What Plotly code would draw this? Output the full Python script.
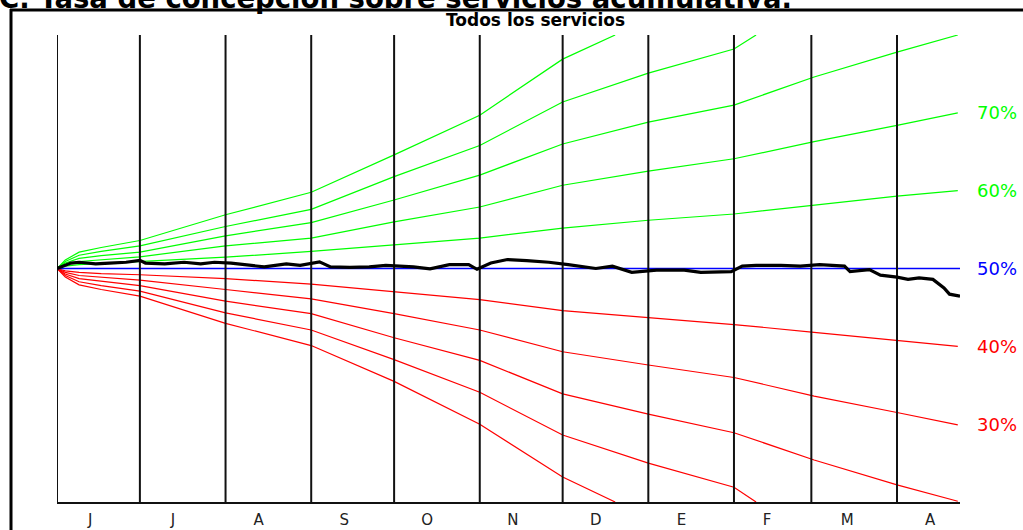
import plotly.graph_objects as go

# ---- data (days since 1 June) ----
month_starts = [0, 30, 61, 92, 122, 153, 183, 214, 245, 273, 304]
month_labels = ["J", "J", "A", "S", "O", "N", "D", "E", "F", "M", "A"]
month_label_days = [12, 42, 73, 104, 134, 165, 195, 226, 257, 286, 316]
end_day = 326.8

band_days = [0, 3, 8, 16, 30, 61, 92, 122, 153, 183, 214, 245, 274, 304, 326]

green_1 = [50.0, 50.3, 50.5, 50.65, 50.9, 51.45, 52.2, 53.0, 53.9, 55.2, 56.2, 57.0, 58.1, 59.3, 60.0]
green_2 = [50.0, 50.5, 50.9, 51.15, 51.5, 52.9, 53.9, 56.0, 57.9, 60.7, 62.5, 64.1, 66.3, 68.4, 70.0]
green_3 = [50.0, 50.7, 51.3, 51.65, 52.1, 54.2, 55.9, 58.8, 62.0, 66.0, 68.8, 71.0, 74.6, 77.8, 80.0]
green_4_days = [0, 3, 8, 16, 30, 61, 92, 122, 153, 183, 214, 245, 253]
green_4 = [50.0, 50.9, 51.7, 52.2, 52.9, 55.4, 57.6, 61.8, 65.8, 71.4, 75.1, 78.2, 80.0]
green_5_days = [0, 3, 8, 16, 30, 61, 92, 122, 153, 183, 202]
green_5 = [50.0, 51.1, 52.1, 52.7, 53.6, 56.9, 59.8, 64.6, 69.7, 76.9, 80.0]

red_1 = [50.0, 49.7, 49.5, 49.35, 49.2, 48.7, 48.0, 47.0, 46.0, 44.6, 43.7, 42.8, 41.8, 40.8, 40.0]
red_2 = [50.0, 49.5, 49.1, 48.85, 48.5, 47.3, 46.1, 44.2, 42.1, 39.3, 37.6, 36.0, 33.6, 31.5, 29.9]
red_3 = [50.0, 49.3, 48.7, 48.35, 47.8, 45.8, 44.2, 41.1, 38.2, 33.9, 31.3, 28.9, 25.4, 22.2, 20.1]
red_4_days = [0, 3, 8, 16, 30, 61, 92, 122, 153, 183, 214, 245, 253]
red_4 = [50.0, 49.1, 48.3, 47.8, 47.1, 44.3, 42.1, 38.3, 34.1, 28.6, 25.0, 21.9, 20.0]
red_5_days = [0, 3, 8, 16, 30, 61, 92, 122, 153, 183, 202]
red_5 = [50.0, 48.9, 47.9, 47.3, 46.45, 42.95, 40.1, 35.5, 30.0, 23.2, 20.0]

target_rate = 50.0

actual_days = [0, 2, 5, 8, 14, 19, 25, 30, 32, 39, 46, 52, 57, 63, 68, 75, 83, 88, 95, 99,
               106, 113, 119, 124, 129, 135, 142, 149, 152, 157, 163, 170, 178, 185, 190, 195,
               201, 208, 217, 227, 233, 244, 248, 253, 262, 269, 276, 285, 287, 294, 298, 304,
               308, 312, 317, 321, 323, 326.8]
actual_rate = [50.0, 50.3, 50.7, 50.8, 50.6, 50.7, 50.8, 51.05, 50.7, 50.6, 50.8, 50.6, 50.8, 50.7,
               50.5, 50.2, 50.6, 50.4, 50.85, 50.2, 50.15, 50.2, 50.4, 50.3, 50.2, 49.95, 50.5,
               50.5, 49.9, 50.7, 51.15, 51.0, 50.8, 50.5, 50.3, 50.0, 50.3, 49.5, 49.8, 49.8,
               49.5, 49.6, 50.3, 50.4, 50.4, 50.3, 50.5, 50.3, 49.6, 49.85, 49.15, 48.9, 48.6,
               48.8, 48.6, 47.5, 46.7, 46.45]

right_labels = ["70%", "60%", "50%", "40%", "30%"]
right_label_values = [70, 60, 50, 40, 30]
right_label_colors = ["#00ff00", "#00ff00", "#0000ff", "#ff0000", "#ff0000"]

# ---- figure ----
W, H = 1023, 530
L, R, T, B = 57, 63, 35, 28
pw, ph = W - L - R, H - T - B


def fx(px):
    return (px - L) / pw


def fy(py):
    return (H - B - py) / ph


fig = go.Figure()

GREEN = "#00ff00"
RED = "#ff0000"

for d, v in [(band_days, green_1), (band_days, green_2), (band_days, green_3),
             (green_4_days, green_4), (green_5_days, green_5)]:
    fig.add_trace(go.Scatter(x=d, y=v, mode="lines", line=dict(color=GREEN, width=1.2),
                             hoverinfo="skip"))
for d, v in [(band_days, red_1), (band_days, red_2), (band_days, red_3),
             (red_4_days, red_4), (red_5_days, red_5)]:
    fig.add_trace(go.Scatter(x=d, y=v, mode="lines", line=dict(color=RED, width=1.2),
                             hoverinfo="skip"))

fig.add_trace(go.Scatter(x=[0, end_day], y=[target_rate, target_rate], mode="lines",
                         line=dict(color="#0000ff", width=1.3), hoverinfo="skip"))

vx, vy = [], []
for m in month_starts:
    vx += [m, m, None]
    vy += [20, 80, None]
fig.add_trace(go.Scatter(x=vx, y=vy, mode="lines", line=dict(color="#111111", width=2),
                         hoverinfo="skip"))

fig.add_trace(go.Scatter(x=actual_days, y=actual_rate, mode="lines",
                         line=dict(color="black", width=3.2), hoverinfo="skip"))

annotations = [
    dict(text="<b>C. Tasa de concepción sobre servicios acumulativa.</b>", xref="paper", yref="paper",
         x=fx(-3), y=fy(16), xanchor="left", yanchor="bottom", showarrow=False,
         font=dict(family="DejaVu Sans", size=27.5, color="black")),
    dict(text="<b>Todos los servicios</b>", xref="paper", yref="paper",
         x=fx(535), y=fy(20), xanchor="center", yanchor="middle", showarrow=False,
         font=dict(family="DejaVu Sans", size=17, color="black")),
]
for t, v, c in zip(right_labels, right_label_values, right_label_colors):
    annotations.append(dict(text=t, xref="paper", yref="y", x=fx(975), y=v, xanchor="left",
                            yanchor="middle", showarrow=False,
                            font=dict(family="DejaVu Sans", size=18, color=c)))

shapes = [
    dict(type="line", xref="paper", yref="paper", x0=fx(10), x1=fx(1030), y0=fy(10), y1=fy(10),
         line=dict(color="black", width=3)),
    dict(type="line", xref="paper", yref="paper", x0=fx(11), x1=fx(11), y0=fy(9), y1=fy(540),
         line=dict(color="black", width=3)),
]

fig.update_layout(
    width=W, height=H, margin=dict(l=L, r=R, t=T, b=B, autoexpand=False),
    paper_bgcolor="white", plot_bgcolor="white", showlegend=False,
    annotations=annotations, shapes=shapes,
    xaxis=dict(range=[0, end_day], showgrid=False, zeroline=False, showline=True,
               linecolor="#111111", linewidth=2, tickmode="array", tickvals=month_label_days,
               ticktext=month_labels, ticks="", ticklabelstandoff=3,
               tickfont=dict(family="DejaVu Sans", size=15, color="#222222")),
    yaxis=dict(range=[20, 80], showgrid=False, zeroline=False, showline=False,
               showticklabels=False, ticks=""),
)

fig.write_html("out.html", config={"displayModeBar": False},
               post_script="document.body.style.margin='0px';document.body.style.overflow='hidden';")
